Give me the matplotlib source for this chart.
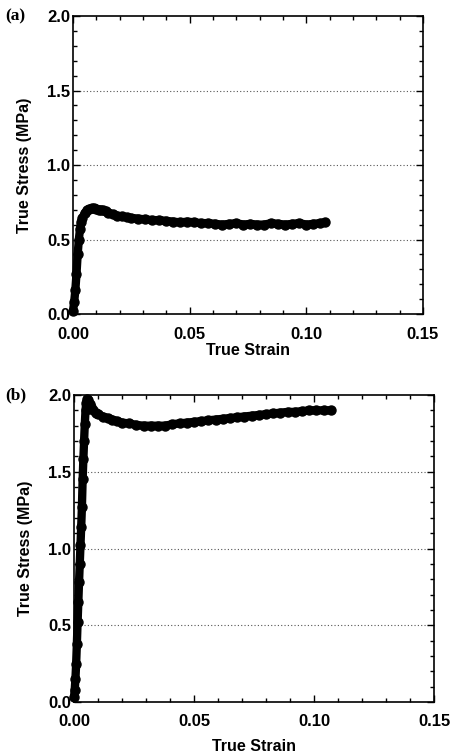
import matplotlib
matplotlib.use("Agg")
import matplotlib.pyplot as plt
from matplotlib.ticker import MultipleLocator, FormatStrFormatter

plt.rcParams["font.family"] = ["Liberation Sans", "DejaVu Sans"]
plt.rcParams["font.weight"] = "bold"

# Panel (a): true strain / true stress (MPa)
strain_a = [0.0, 0.0005, 0.001, 0.0015, 0.002, 0.0025, 0.003, 0.0035, 0.004,
            0.005, 0.006, 0.007, 0.008, 0.009, 0.010, 0.011, 0.012, 0.013,
            0.014, 0.015, 0.017, 0.019, 0.021, 0.023, 0.025, 0.028, 0.031,
            0.034, 0.037, 0.040, 0.043, 0.046, 0.049, 0.052, 0.055, 0.058,
            0.061, 0.064, 0.067, 0.070, 0.073, 0.076, 0.079, 0.082, 0.085,
            0.088, 0.091, 0.094, 0.097, 0.100, 0.103, 0.106, 0.108]
stress_a = [0.02, 0.08, 0.16, 0.27, 0.40, 0.50, 0.57, 0.62, 0.645,
            0.675, 0.695, 0.705, 0.71, 0.71, 0.705, 0.70, 0.70, 0.695,
            0.69, 0.68, 0.67, 0.66, 0.655, 0.65, 0.645, 0.64, 0.635,
            0.63, 0.63, 0.625, 0.62, 0.615, 0.62, 0.615, 0.61, 0.61,
            0.605, 0.60, 0.605, 0.61, 0.60, 0.605, 0.60, 0.60, 0.61,
            0.605, 0.60, 0.605, 0.61, 0.60, 0.605, 0.61, 0.615]

# Panel (b)
strain_b = [0.0, 0.0003, 0.0006, 0.0009, 0.0012, 0.0015, 0.0018, 0.0021,
            0.0024, 0.0027, 0.003, 0.0033, 0.0036, 0.0039, 0.0042, 0.0045,
            0.0048, 0.0051, 0.0055, 0.006, 0.0065, 0.007, 0.008, 0.009,
            0.010, 0.012, 0.014, 0.016, 0.018, 0.020, 0.023, 0.026, 0.029,
            0.032, 0.035, 0.038, 0.041, 0.044, 0.047, 0.050, 0.053, 0.056,
            0.059, 0.062, 0.065, 0.068, 0.071, 0.074, 0.077, 0.080, 0.083,
            0.086, 0.089, 0.092, 0.095, 0.098, 0.101, 0.104, 0.107]
stress_b = [0.03, 0.08, 0.15, 0.25, 0.38, 0.52, 0.65, 0.78,
            0.90, 1.02, 1.14, 1.27, 1.45, 1.58, 1.70, 1.81,
            1.90, 1.95, 1.975, 1.965, 1.94, 1.92, 1.90, 1.885,
            1.875, 1.86, 1.85, 1.84, 1.83, 1.82, 1.815, 1.805, 1.80,
            1.80, 1.80, 1.80, 1.81, 1.815, 1.82, 1.825, 1.83, 1.835,
            1.84, 1.845, 1.85, 1.855, 1.86, 1.865, 1.87, 1.875, 1.88,
            1.885, 1.89, 1.89, 1.895, 1.90, 1.90, 1.90, 1.90]

panel_labels = ["(a)", "(b)"]
x_ticks = [0.00, 0.05, 0.10, 0.15]
y_ticks = [0.0, 0.5, 1.0, 1.5, 2.0]

fig = plt.figure(figsize=(4.52, 7.55), dpi=100)
ax_a = fig.add_axes([0.1615, 0.5841, 0.7743, 0.3947])
ax_b = fig.add_axes([0.1637, 0.0702, 0.7965, 0.4066])

for ax, xs, ys, lab in [(ax_a, strain_a, stress_a, panel_labels[0]),
                        (ax_b, strain_b, stress_b, panel_labels[1])]:
    ax.plot(xs, ys, "-o", color="black", linewidth=6, markersize=6.5,
            solid_capstyle="round", zorder=3, clip_on=False)
    ax.set_xlim(0, 0.15)
    ax.set_ylim(0, 2.0)
    ax.set_xticks(x_ticks)
    ax.set_yticks(y_ticks)
    ax.xaxis.set_major_formatter(FormatStrFormatter("%.2f"))
    ax.yaxis.set_major_formatter(FormatStrFormatter("%.1f"))
    ax.xaxis.set_minor_locator(MultipleLocator(0.01))
    ax.yaxis.set_minor_locator(MultipleLocator(0.1))
    ax.tick_params(which="both", direction="in", top=True, right=True,
                   labelsize=12, width=1.0)
    ax.tick_params(axis="y", pad=2)
    ax.tick_params(axis="x", pad=9)
    ax.tick_params(which="major", length=5)
    ax.tick_params(which="minor", length=3)
    for lbl in ax.get_xticklabels() + ax.get_yticklabels():
        lbl.set_fontweight("bold")
    for s in ax.spines.values():
        s.set_linewidth(1.2)
    for yv in y_ticks[1:-1]:
        ax.axhline(yv, color="#555555", linestyle=(0, (1, 2)), linewidth=0.8, zorder=1)
    ax.set_xlabel("True Strain", fontsize=11.5, fontweight="bold", labelpad=1)
    ax.set_ylabel("True Stress (MPa)", fontsize=11.5, fontweight="bold", labelpad=11)
    top = ax.get_position().y1
    fig.text(0.012, top, lab, ha="left", va="center",
             fontsize=12.5, fontweight="bold", family="Liberation Serif")

ax_b.xaxis.labelpad = 7

fig.savefig("out.png", dpi=100)
